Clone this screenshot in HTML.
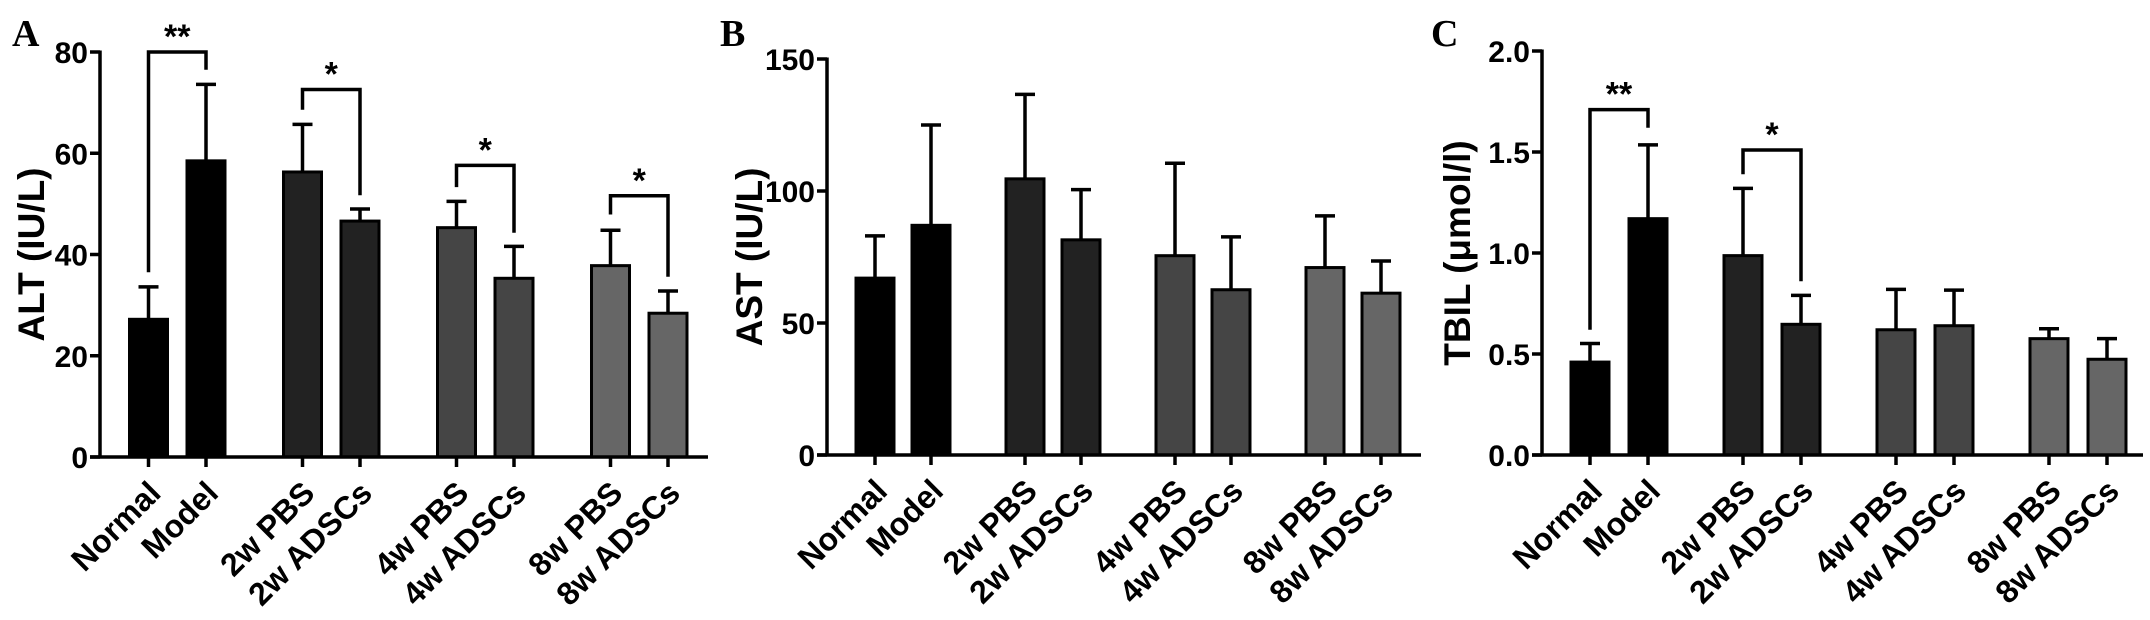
<!DOCTYPE html>
<html><head><meta charset="utf-8">
<style>
html,body{margin:0;padding:0;background:#fff;}
svg{display:block;}
text{font-family:"Liberation Sans",Arial,sans-serif;font-weight:bold;fill:#000;}
</style></head>
<body>
<svg id="fig" width="2150" height="620" viewBox="0 0 2150 620" xmlns="http://www.w3.org/2000/svg"></svg>
<script>
const categories = ["Normal","Model","2w PBS","2w ADSCs","4w PBS","4w ADSCs","8w PBS","8w ADSCs"];
const altMeans = [27.2, 58.5, 56.3, 46.6, 45.3, 35.3, 37.8, 28.4];
const altErrs  = [6.4, 15.1, 9.4, 2.4, 5.2, 6.3, 7.0, 4.4];
const astMeans = [67, 87, 104.6, 81.5, 75.5, 62.6, 71, 61.3];
const astErrs  = [16, 38, 32, 19, 35, 20, 19.6, 12.2];
const tbilMeans = [0.46, 1.17, 0.987, 0.647, 0.62, 0.64, 0.576, 0.474];
const tbilErrs  = [0.092, 0.365, 0.333, 0.143, 0.2, 0.176, 0.049, 0.102];
const altTicks = [0, 20, 40, 60, 80];
const astTicks = [0, 50, 100, 150];
const tbilTicks = [0.0, 0.5, 1.0, 1.5, 2.0];
const tbilTickLabels = ["0.0","0.5","1.0","1.5","2.0"];
// significance brackets: [from, to, top value, left leg end, right leg end, label]
const altSig = [[0,1,80,36.5,76.5,"**"],[2,3,72.6,68.6,51.7,"*"],[4,5,57.6,53.3,44.3,"*"],[6,7,51.6,47.9,35.6,"*"]];
const tbilSig = [[0,1,1.71,0.62,1.62,"**"],[2,3,1.51,1.39,0.86,"*"]];

const NS = "http://www.w3.org/2000/svg";
const svg = document.getElementById("fig");
const fills = ["#000","#000","#222","#222","#454545","#454545","#666","#666"];
function mk(tag, attrs, parent){
  const e = document.createElementNS(NS, tag);
  for (const k in attrs) e.setAttribute(k, attrs[k]);
  (parent||svg).appendChild(e);
  return e;
}

function panel(cfg){
  const g = mk("g", {});
  
  
  const y = v => cfg.y0 - (v - cfg.min) / (cfg.max - cfg.min) * (cfg.y0 - cfg.yTop);
  const x = i => cfg.x0 + Math.floor(i/2) * cfg.groupStep + (i%2) * cfg.pairStep;
  const L = mk("text", {x: cfg.letterX, y: 46, "font-size": 38, style:"font-family:'Liberation Serif',serif;font-weight:bold"}, g);
  L.textContent = cfg.letter;
  
  
  categories.forEach((c, i) => {
    const cx = x(i), top = y(cfg.means[i]), et = y(cfg.means[i] + cfg.errs[i]);
    const eb = mk("line", {x1: cx, x2: cx, y1: top, y2: et, stroke: "#000", "stroke-width": 3.5}, g);
    
    
    const cap = mk("line", {x1: cx-10, x2: cx+10, y1: et, y2: et, stroke: "#000", "stroke-width": 3.5}, g);
    
    
    const r = mk("rect", {x: cx-19, y: top, width: 38, height: cfg.y0 - top, fill: fills[i], stroke: "#000", "stroke-width": 3}, g);
    
    
    const tk = mk("line", {x1: cx, x2: cx, y1: cfg.y0, y2: cfg.y0+10, stroke: "#000", "stroke-width": 3.5}, g);
    
    
    const lx = cx + 14, ly = cfg.y0 + 38;
    const t = mk("text", {x: lx, y: ly, "font-size": 32, "text-anchor": "end", transform: `rotate(-45 ${lx} ${ly})`}, g);
    t.textContent = c;
    
    
  });
  const ya = mk("line", {x1: cfg.axisX, x2: cfg.axisX, y1: cfg.yTop-1.5, y2: cfg.y0+1.5, stroke: "#000", "stroke-width": 3.5}, g);
  
  
  const xa = mk("line", {x1: cfg.axisX-10, x2: cfg.axisEnd, y1: cfg.y0, y2: cfg.y0, stroke: "#000", "stroke-width": 3.5}, g);
  
  
  cfg.ticks.forEach((v, k) => {
    const yy = y(v);
    const tk = mk("line", {x1: cfg.axisX-10, x2: cfg.axisX, y1: yy, y2: yy, stroke: "#000", "stroke-width": 3.5}, g);
    
    
    const t = mk("text", {x: cfg.axisX-12, y: yy+11, "font-size": 30, "text-anchor": "end"}, g);
    t.textContent = cfg.tickLabels ? cfg.tickLabels[k] : String(v);
    
    
  });
  const tx = cfg.titleX, ty = (cfg.y0 + cfg.yTop) / 2;
  const yt = mk("text", {x: tx, y: ty, "font-size": 37, "text-anchor": "middle", transform: `rotate(-90 ${tx} ${ty})`}, g);
  yt.textContent = cfg.title;
  
  
  (cfg.sig || []).forEach(s => {
    const xa1 = x(s[0]), xb = x(s[1]);
    const p = mk("polyline", {points: `${xa1},${y(s[3])} ${xa1},${y(s[2])} ${xb},${y(s[2])} ${xb},${y(s[4])}`, fill: "none", stroke: "#000", "stroke-width": 3.5}, g);
    
    
    const st = mk("text", {x: (xa1+xb)/2, y: y(s[2]) - 4, "font-size": 34, "text-anchor": "middle"}, g);
    st.textContent = s[5];
    
    
  });
}

panel({name:"panel-a-alt", letter:"A", letterX:12, x0:148.5, pairStep:57.5, groupStep:154, axisX:100, axisEnd:708,
  y0:457, yTop:52, min:0, max:80, means:altMeans, errs:altErrs, ticks:altTicks, title:"ALT (IU/L)", titleX:44, sig:altSig});
panel({name:"panel-b-ast", letter:"B", letterX:720, x0:875, pairStep:56, groupStep:150, axisX:827, axisEnd:1421,
  y0:455, yTop:59, min:0, max:150, means:astMeans, errs:astErrs, ticks:astTicks, title:"AST (IU/L)", titleX:762});
panel({name:"panel-c-tbil", letter:"C", letterX:1431, x0:1590, pairStep:58, groupStep:153, axisX:1542, axisEnd:2143,
  y0:455, yTop:51, min:0, max:2, means:tbilMeans, errs:tbilErrs, ticks:tbilTicks, tickLabels:tbilTickLabels, title:"TBIL (μmol/l)", titleX:1470, sig:tbilSig});
</script>
</body></html>
